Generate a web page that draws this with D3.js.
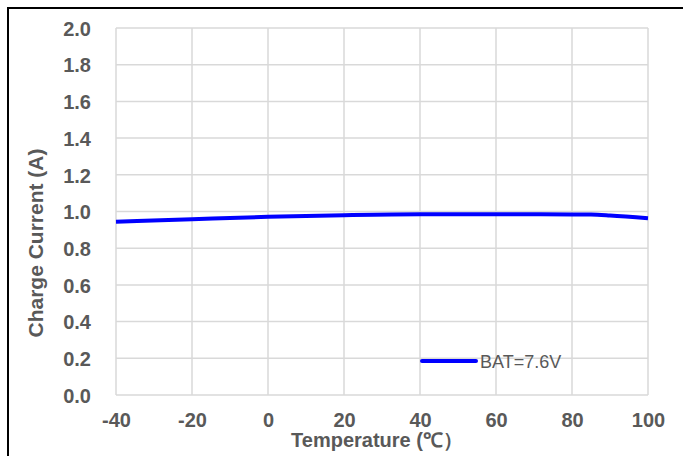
<!DOCTYPE html>
<html>
<head>
<meta charset="utf-8">
<script src="https://cdn.jsdelivr.net/npm/d3@7"></script>
<style>
  body { margin: 0; background: #fff; }
  svg { display: block; font-family: Arial, "Liberation Sans", sans-serif; }
</style>
</head>
<body>
<svg id="chart" width="683" height="456"></svg>
<script>
// 数据
const temps = [-40, -20, 0, 20, 40, 60, 80, 85, 90, 100];
const current = [0.944, 0.958, 0.971, 0.980, 0.985, 0.985, 0.984, 0.983, 0.978, 0.963];
const xTicks = [-40, -20, 0, 20, 40, 60, 80, 100];
const yTicks = [0, 0.2, 0.4, 0.6, 0.8, 1.0, 1.2, 1.4, 1.6, 1.8, 2.0];
const seriesName = 'BAT=7.6V';

const svg = d3.select('#chart');
const plot = { left: 116, right: 648, top: 28, bottom: 395 };

const x = d3.scaleLinear().domain([-40, 100]).range([plot.left, plot.right]);
const y = d3.scaleLinear().domain([0, 2]).range([plot.bottom, plot.top]);

// 外框
svg.append('rect')
    .attr('x', 8).attr('y', 8)
    .attr('width', 700).attr('height', 500)
    .attr('fill', 'none')
    .attr('stroke', '#000')
    .attr('stroke-width', 2);

// 网格线
const grid = svg.append('g').attr('stroke', '#d9d9d9').attr('stroke-width', 1.5);
grid.selectAll('line.h')
    .data(yTicks)
    .join('line')
    .attr('class', 'h')
    .attr('x1', plot.left).attr('x2', plot.right)
    .attr('y1', d => y(d)).attr('y2', d => y(d));
grid.selectAll('line.v')
    .data(xTicks)
    .join('line')
    .attr('class', 'v')
    .attr('x1', d => x(d)).attr('x2', d => x(d))
    .attr('y1', plot.top).attr('y2', plot.bottom);

// 坐标轴（负号用普通连字符）
const yAxis = svg.append('g')
    .attr('transform', `translate(${plot.left - 25},0)`)
    .call(d3.axisLeft(y).tickValues(yTicks).tickFormat(d => d.toFixed(1)).tickSize(0));
yAxis.select('.domain').remove();
yAxis.selectAll('text')
    .attr('x', 0)
    .attr('dy', '0.36em')
    .attr('font-size', 20)
    .attr('font-weight', 'bold')
    .attr('fill', '#595959');

const xAxis = svg.append('g')
    .attr('transform', `translate(0,${plot.bottom})`)
    .call(d3.axisBottom(x).tickValues(xTicks).tickFormat(d => String(d)).tickSize(0));
xAxis.select('.domain').remove();
xAxis.selectAll('text')
    .attr('y', 32)
    .attr('dy', 0)
    .attr('font-size', 20)
    .attr('font-weight', 'bold')
    .attr('fill', '#595959');

// 轴标题
svg.append('text')
    .attr('transform', 'translate(43,243) rotate(-90)')
    .attr('text-anchor', 'middle')
    .attr('font-size', 21)
    .attr('font-weight', 'bold')
    .attr('fill', '#595959')
    .text('Charge Current (A)');

svg.append('text')
    .attr('x', 377).attr('y', 447)
    .attr('text-anchor', 'middle')
    .attr('font-size', 20)
    .attr('font-weight', 'bold')
    .attr('fill', '#595959')
    .text('Temperature (℃）');

// 曲线
const line = d3.line()
    .x((d, i) => x(temps[i]))
    .y(d => y(d))
    .curve(d3.curveMonotoneX);

svg.append('path')
    .datum(current)
    .attr('d', line)
    .attr('fill', 'none')
    .attr('stroke', '#0000ff')
    .attr('stroke-width', 4);

// 图例
svg.append('line')
    .attr('x1', 422).attr('x2', 476)
    .attr('y1', 361).attr('y2', 361)
    .attr('stroke', '#0000ff')
    .attr('stroke-width', 4)
    .attr('stroke-linecap', 'round');
svg.append('text')
    .attr('x', 480).attr('y', 367.5)
    .attr('font-size', 18)
    .attr('fill', '#595959')
    .text(seriesName);
</script>
</body>
</html>
